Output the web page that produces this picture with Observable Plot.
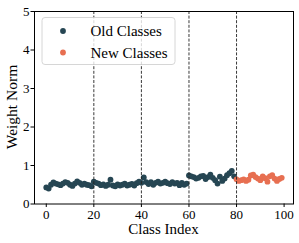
<!DOCTYPE html>
<html>
<head>
<meta charset="utf-8">
<script src="https://cdn.jsdelivr.net/npm/d3@7"></script>
<script src="https://cdn.jsdelivr.net/npm/@observablehq/plot@0.6"></script>
<style>
  html, body { margin: 0; padding: 0; background: white; }
</style>
</head>
<body>
<div id="chart"></div>
<script>
const oldNorms = [
  0.43, 0.40, 0.50, 0.56, 0.53, 0.51, 0.49, 0.53, 0.57, 0.55,
  0.50, 0.47, 0.53, 0.59, 0.55, 0.50, 0.53, 0.50, 0.49, 0.46,
  0.58, 0.55, 0.53, 0.49, 0.51, 0.47, 0.50, 0.63, 0.48, 0.46,
  0.51, 0.48, 0.50, 0.53, 0.48, 0.50, 0.52, 0.48, 0.54, 0.58,
  0.55, 0.69, 0.57, 0.52, 0.57, 0.50, 0.55, 0.58, 0.53, 0.55,
  0.58, 0.54, 0.52, 0.57, 0.53, 0.55, 0.49, 0.55, 0.50, 0.53,
  0.74, 0.72, 0.70, 0.66, 0.68, 0.72, 0.73, 0.65, 0.70, 0.76,
  0.68, 0.62, 0.53, 0.71, 0.60, 0.66, 0.75, 0.80, 0.86, 0.72
];
const newNorms = [
  0.64, 0.60, 0.62, 0.64, 0.60, 0.63, 0.74, 0.76, 0.70, 0.66,
  0.62, 0.72, 0.67, 0.58, 0.72, 0.75, 0.66, 0.60, 0.65, 0.68
];
const taskBoundaries = [20, 40, 60, 80];
const xTicks = [0, 20, 40, 60, 80, 100];
const yTicks = [0, 1, 2, 3, 4, 5];
const seriesNames = ["Old Classes", "New Classes"];
const seriesColors = ["#264653", "#e76f51"];

const data = [
  ...oldNorms.map((v, i) => ({cls: i, norm: v, group: seriesNames[0]})),
  ...newNorms.map((v, i) => ({cls: oldNorms.length + i, norm: v, group: seriesNames[1]}))
];

const font = "'Liberation Serif', 'DejaVu Serif', serif";

const chart = Plot.plot({
  width: 299,
  height: 243,
  marginLeft: 34,
  marginRight: 6,
  marginTop: 11,
  marginBottom: 39.5,
  style: {fontFamily: font, fontSize: "13px", color: "black", background: "white"},
  x: {domain: [-4.95, 103.95]},
  y: {domain: [0, 5]},
  color: {domain: seriesNames, range: seriesColors},
  marks: [
    Plot.dot(data, {x: "cls", y: "norm", r: 2.9, fill: "group", stroke: "none"}),
    Plot.ruleX(taskBoundaries, {stroke: "#222", strokeWidth: 0.9, strokeDasharray: "3,1.6"}),
    Plot.frame({stroke: "black", strokeWidth: 1}),
    Plot.axisX({ticks: xTicks, tickFormat: d3.format("d"), tickSize: 3.5, tickPadding: 2, label: null, fontSize: 13}),
    Plot.axisY({ticks: yTicks, tickFormat: d3.format("d"), tickSize: 3.5, tickPadding: 1.5, label: null, fontSize: 13})
  ]
});

document.getElementById("chart").appendChild(chart);

const svg = d3.select(chart);

svg.append("text")
  .attr("x", 163.5).attr("y", 234)
  .attr("text-anchor", "middle")
  .attr("font-family", font).attr("font-size", 15)
  .attr("fill", "black")
  .text("Class Index");

svg.append("text")
  .attr("transform", "translate(17,107) rotate(-90)")
  .attr("text-anchor", "middle")
  .attr("font-family", font).attr("font-size", 15.5)
  .attr("fill", "black")
  .text("Weight Norm");

const legend = svg.append("g");
legend.append("rect")
  .attr("x", 42).attr("y", 17.5).attr("width", 133).attr("height", 47)
  .attr("rx", 3).attr("fill", "white").attr("fill-opacity", 0.8)
  .attr("stroke", "#cccccc").attr("stroke-width", 0.8);
seriesNames.forEach((name, i) => {
  const cy = 31 + i * 21.5;
  legend.append("circle").attr("cx", 63).attr("cy", cy).attr("r", 2.9).attr("fill", seriesColors[i]);
  legend.append("text")
    .attr("x", 90.5).attr("y", cy + 5)
    .attr("text-anchor", "start")
    .attr("font-family", font).attr("font-size", 15)
    .attr("fill", "black")
    .text(name);
});
</script>
</body>
</html>
